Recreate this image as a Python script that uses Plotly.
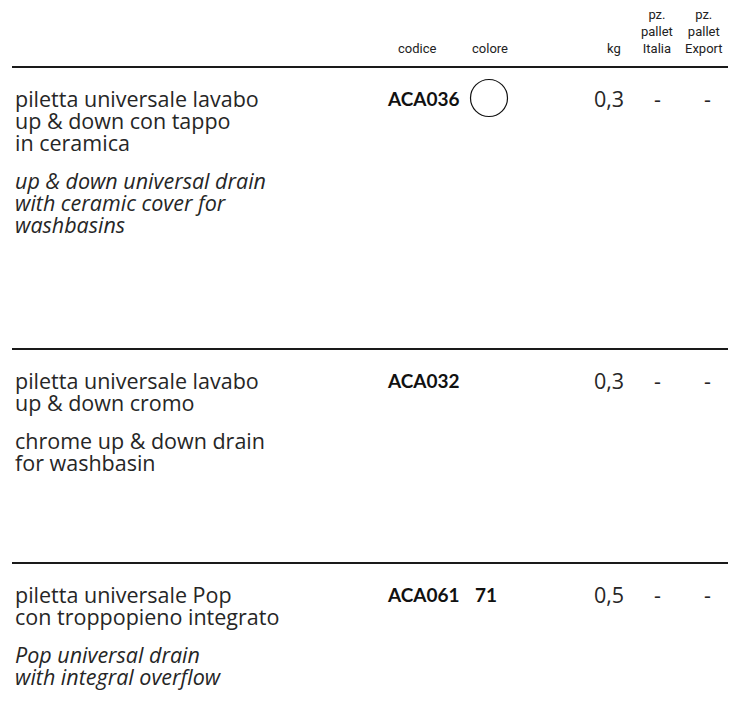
import plotly.graph_objects as go

# --- table data ---
header_cols = [["codice"], ["colore"], ["kg"], ["pz.", "pallet", "Italia"], ["pz.", "pallet", "Export"]]
descr_it = [
    ["piletta universale lavabo", "up & down con tappo", "in ceramica"],
    ["piletta universale lavabo", "up & down cromo"],
    ["piletta universale Pop", "con troppopieno integrato"],
]
descr_en = [
    ["up & down universal drain", "with ceramic cover for", "washbasins"],
    ["chrome up & down drain", "for washbasin"],
    ["Pop universal drain", "with integral overflow"],
]
en_italic = [True, False, True]
codes = ["ACA036", "ACA032", "ACA061"]
colore = ["swatch", "", "71"]
kg = ["0,3", "0,3", "0,5"]
pallet_italia = ["-", "-", "-"]
pallet_export = ["-", "-", "-"]

# --- layout constants (page pixels; body margin is 8px, visible width ends at 728) ---
OFF = 8
VIS_W = 728
FIG_H = 700
row_top = [67, 349, 563]
line_h = 22
x_text = 13
x_code = 385
x_col = {"colore": 489, "kg": 609, "ita": 657, "exp": 707}
header_x = [417, 490, 614, 657, 704]

MAIN = "'Open Sans', Lato, sans-serif"
HEAD = "Roboto, Lato, sans-serif"
TXT = "#262626"
GLYPH = 21.5  # visible glyph size; line pitch comes from the base size below

fig = go.Figure()
ann = []


def label(x, y, text, font, xanchor="left"):
    ann.append(dict(x=x, y=y, text=text, showarrow=False, xanchor=xanchor, yanchor="middle",
                    align="center" if xanchor == "center" else xanchor, font=font))


def block(lines, italic=False):
    fmt = (lambda t: f"<i>{t}</i>") if italic else (lambda t: t)
    return "<br>".join(f"<span style='font-size:{GLYPH}px'>{fmt(t)}</span>" for t in lines)


head_font = dict(family=HEAD, size=13, color="#222")
for hx, lines in zip(header_x, header_cols):
    label(hx, 48 - (len(lines) - 1) * 17 / 2, "<br>".join(lines), head_font, "center")

shapes = []
base_font = dict(family=MAIN, size=line_h / 1.3, color=TXT)
num_font = dict(family=MAIN, size=GLYPH, color=TXT)
code_font = dict(family="Lato", size=19, color="#111", weight=900)
for i, top in enumerate(row_top):
    shapes.append(dict(type="line", x0=12, x1=VIS_W, y0=top, y1=top, xref="x", yref="y",
                       line=dict(color="#1a1a1a", width=2)))
    y1 = top + 31
    n_it, n_en = len(descr_it[i]), len(descr_en[i])
    label(x_text, y1 + (n_it - 1) * line_h / 2, block(descr_it[i]), base_font)
    y_en = y1 + n_it * line_h + 16
    label(x_text, y_en + (n_en - 1) * line_h / 2, block(descr_en[i], en_italic[i]), base_font)
    label(x_code, y1, f"<b>{codes[i]}</b>", code_font)
    if colore[i] == "swatch":
        fig.add_trace(go.Scatter(x=[x_col["colore"]], y=[y1], mode="markers", hoverinfo="skip",
                                 marker=dict(symbol="circle", size=37, color="white",
                                             line=dict(color="#111", width=1.2))))
    elif colore[i]:
        label(x_col["colore"] - 3, y1, f"<b>{colore[i]}</b>", code_font, "center")
    for key, vals in (("kg", kg), ("ita", pallet_italia), ("exp", pallet_export)):
        label(x_col[key], y1, vals[i], num_font, "center")

fig.update_layout(
    width=VIS_W - OFF, height=FIG_H, margin=dict(l=0, r=0, t=0, b=0),
    paper_bgcolor="white", plot_bgcolor="white", showlegend=False,
    xaxis=dict(range=[OFF, VIS_W], visible=False, fixedrange=True),
    yaxis=dict(range=[OFF + FIG_H, OFF], visible=False, fixedrange=True),
    annotations=ann, shapes=shapes,
)
fig.write_html("out.html", config={"displayModeBar": False})
